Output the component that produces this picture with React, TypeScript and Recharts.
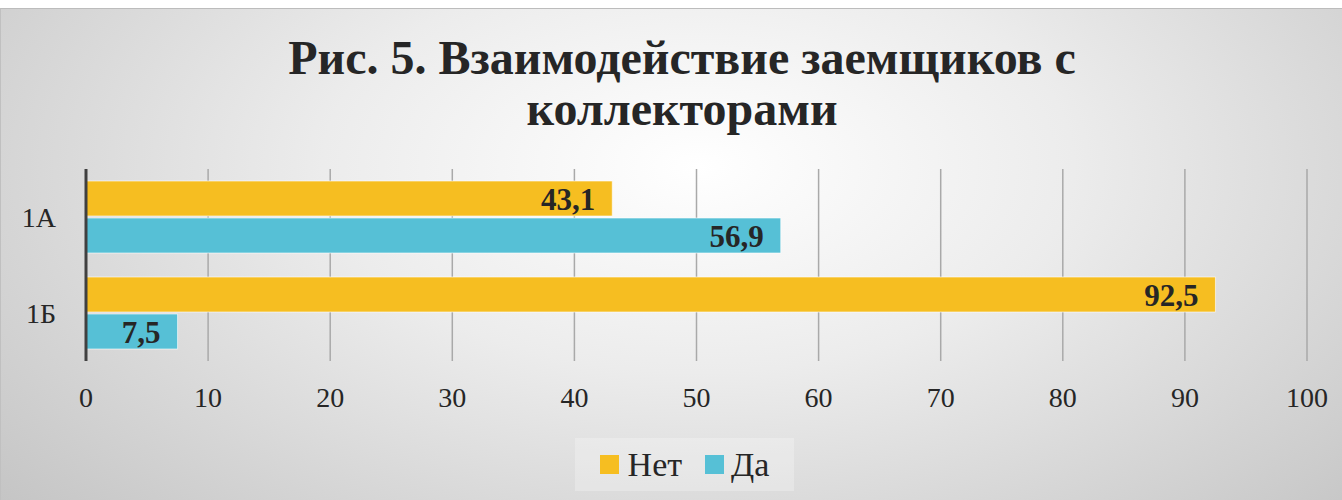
import React from "react";
import { BarChart, Bar, XAxis, YAxis, CartesianGrid, Legend, LabelList } from "recharts";

const categories = ["1А", "1Б"];
const netValues = [43.1, 92.5];
const daValues = [56.9, 7.5];
const xTicks = [0, 10, 20, 30, 40, 50, 60, 70, 80, 90, 100];

const SERIF = "Liberation Serif, Tinos, Times New Roman, DejaVu Serif, serif";
const NET_COLOR = "#F6BE21";
const DA_COLOR = "#56C0D6";

const data = categories.map((name, i) => ({ name, net: netValues[i], da: daValues[i] }));

const fmt = (v: any) => String(v).replace(".", ",");

const LegendBox = () => (
  <div
    style={{
      display: "flex",
      alignItems: "center",
      justifyContent: "center",
      height: 53,
      background: "rgba(255,255,255,0.25)",
      fontFamily: SERIF,
      fontSize: 34,
      color: "#262626",
    }}
  >
    <span style={{ width: 19, height: 19, background: NET_COLOR, marginRight: 9 }} />
    <span style={{ marginRight: 23 }}>Нет</span>
    <span style={{ width: 19, height: 19, background: DA_COLOR, marginRight: 7 }} />
    <span>Да</span>
  </div>
);

export default function App() {
  return (
    <div
      style={{
        position: "absolute",
        top: 8,
        left: 0,
        width: 1342,
        height: 492,
        boxSizing: "border-box",
        borderTop: "1px solid #bcbcbc",
        borderLeft: "1px solid #c0c0c0",
        fontFamily: SERIF,
        background:
          "radial-gradient(ellipse 70% 105% at 52% 32%, #ffffff 0%, #ececec 40%, #c4c4c4 100%)",
      }}
    >
      <div
        style={{
          position: "absolute",
          top: 23,
          left: 10,
          width: 1342,
          textAlign: "center",
          fontFamily: SERIF,
          fontWeight: "bold",
          fontSize: 48,
          lineHeight: "51px",
          color: "#262626",
        }}
      >
        Рис. 5. Взаимодействие заемщиков с
        <br />
        коллекторами
      </div>
      <BarChart
        width={1342}
        height={492}
        data={data}
        layout="vertical"
        margin={{ top: 160, right: 36, bottom: 100, left: 0 }}
        barSize={35}
        barGap={2}
        style={{ position: "absolute", top: 0, left: 0 }}
      >
        <CartesianGrid horizontal={false} stroke="#a9a9a9" strokeWidth={1.5} />
        <XAxis
          type="number"
          domain={[0, 100]}
          ticks={xTicks}
          axisLine={false}
          tickLine={false}
          tickSize={6}
          tickMargin={20}
          height={40}
          tick={{ fontFamily: SERIF, fontSize: 28, fill: "#262626" }}
        />
        <YAxis
          type="category"
          dataKey="name"
          width={85}
          axisLine={{ stroke: "#404040", strokeWidth: 3 }}
          tickLine={false}
          tickSize={6}
          tickMargin={24}
          tick={{ fontFamily: SERIF, fontSize: 28, fill: "#262626" }}
        />
        <Legend
          verticalAlign="middle"
          layout="horizontal"
          content={<LegendBox />}
          wrapperStyle={{ top: 429, left: 574, width: 219 }}
        />
        <Bar dataKey="net" name="Нет" fill={NET_COLOR} stroke="rgba(255,255,255,0.6)" strokeWidth={1} isAnimationActive={false}>
          <LabelList
            dataKey="net"
            position="insideRight"
            offset={17}
            formatter={fmt}
            style={{ fontFamily: SERIF, fontWeight: "bold", fontSize: 31, fill: "#262626" }}
          />
        </Bar>
        <Bar dataKey="da" name="Да" fill={DA_COLOR} stroke="rgba(255,255,255,0.6)" strokeWidth={1} isAnimationActive={false}>
          <LabelList
            dataKey="da"
            position="insideRight"
            offset={17}
            formatter={fmt}
            style={{ fontFamily: SERIF, fontWeight: "bold", fontSize: 31, fill: "#262626" }}
          />
        </Bar>
      </BarChart>
    </div>
  );
}
